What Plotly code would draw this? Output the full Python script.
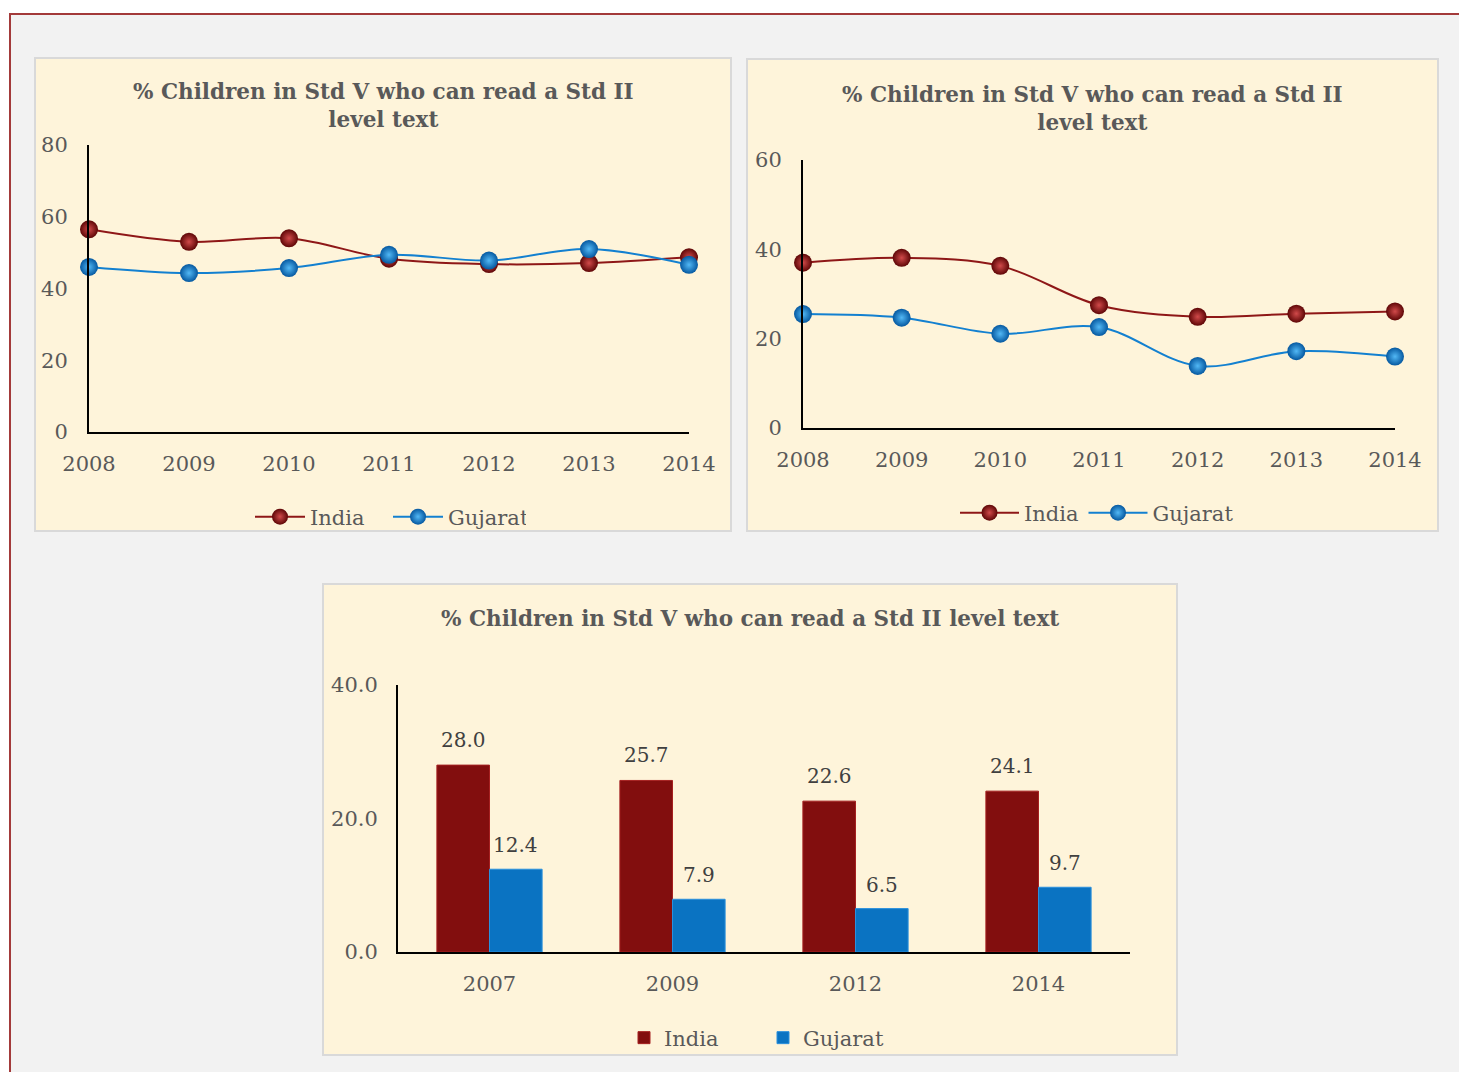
import plotly.graph_objects as go

W, H = 1459, 1072

# ---------------- data ----------------
years_line = [2008, 2009, 2010, 2011, 2012, 2013, 2014]
c1_india = [56.5, 53.0, 54.0, 48.3, 46.8, 47.1, 48.7]
c1_gujarat = [46.0, 44.3, 45.7, 49.4, 47.8, 51.0, 46.6]
c2_india = [37.0, 38.1, 36.3, 27.5, 24.9, 25.6, 26.1]
c2_gujarat = [25.5, 24.7, 21.1, 22.6, 13.9, 17.2, 16.0]
bar_years = ["2007", "2009", "2012", "2014"]
bar_india = [28.0, 25.7, 22.6, 24.1]
bar_gujarat = [12.4, 7.9, 6.5, 9.7]
title_line = "% Children in Std V who can read a Std II<br>level text"
title_bar = "% Children in Std V who can read a Std II level text"

FONT = "DejaVu Serif"
GREY = "#595959"
RED_LINE = "#8e1717"
BLUE_LINE = "#1380d0"


def px(x):
    return x / W


def py(y):
    return 1 - y / H


fig = go.Figure()


def ball(color_edge, color_center):
    return dict(size=18, color=color_edge,
                gradient=dict(type="radial", color=color_center),
                line=dict(width=0))


def add_lines(india, guj, xa, ya, leg):
    fig.add_trace(go.Scatter(
        x=years_line, y=india, name="India", mode="lines+markers",
        line=dict(color=RED_LINE, width=2, shape="spline", smoothing=1),
        marker=ball("#5e0606", "#d14a4a"), cliponaxis=False,
        xaxis=xa, yaxis=ya, legend=leg))
    fig.add_trace(go.Scatter(
        x=years_line, y=guj, name="Gujarat", mode="lines+markers",
        line=dict(color=BLUE_LINE, width=2, shape="spline", smoothing=1),
        marker=ball("#0558a0", "#52b8f5"), cliponaxis=False,
        xaxis=xa, yaxis=ya, legend=leg))


add_lines(c1_india, c1_gujarat, "x", "y", "legend")
add_lines(c2_india, c2_gujarat, "x2", "y2", "legend2")

fig.add_trace(go.Bar(
    x=bar_years, y=bar_india, name="India", marker=dict(color="#820e0e",
                                                        line=dict(color="#a52020", width=1)),
    xaxis="x3", yaxis="y3", legend="legend3"))
fig.add_trace(go.Bar(
    x=bar_years, y=bar_gujarat, name="Gujarat", marker=dict(color="#0a73c2",
                                                            line=dict(color="#2a90dd", width=1)),
    xaxis="x3", yaxis="y3", legend="legend3"))

tickfont = dict(family=FONT, size=21, color=GREY)

axis_common = dict(showgrid=False, zeroline=False, showline=True, linecolor="black",
                   linewidth=2, tickfont=tickfont, ticks="", fixedrange=True, automargin=False)

legfont = dict(family=FONT, size=21, color=GREY)

layout = dict(
    width=W, height=H, margin=dict(l=0, r=0, t=0, b=0, autoexpand=False),
    paper_bgcolor="white", plot_bgcolor="rgba(0,0,0,0)",
    barmode="group", bargap=0.425, bargroupgap=0,
    xaxis=dict(domain=[px(89), px(689)], range=[2008, 2014], tickvals=years_line,
               anchor="y", ticklabelstandoff=12, **axis_common),
    yaxis=dict(domain=[py(432), py(145)], range=[0, 80], dtick=20,
               anchor="x", ticklabelstandoff=15, **axis_common),
    xaxis2=dict(domain=[px(803), px(1395)], range=[2008, 2014], tickvals=years_line,
                anchor="y2", ticklabelstandoff=12, **axis_common),
    yaxis2=dict(domain=[py(428), py(160)], range=[0, 60], dtick=20,
                anchor="x2", ticklabelstandoff=15, **axis_common),
    xaxis3=dict(domain=[px(398), px(1130)], type="category",
                anchor="y3", ticklabelstandoff=12, **axis_common),
    yaxis3=dict(domain=[py(952), py(685)], range=[0, 40], dtick=20, tickformat=".1f",
                anchor="x3", ticklabelstandoff=14, **axis_common),
    legend=dict(orientation="h", x=px(388), y=py(517), xanchor="center", yanchor="middle",
                font=legfont, itemwidth=50, entrywidth=73,
                bgcolor="rgba(0,0,0,0)", itemclick=False, itemdoubleclick=False),
    legend2=dict(orientation="h", x=px(1097), y=py(513), xanchor="center", yanchor="middle",
                 font=legfont, itemwidth=59,
                 bgcolor="rgba(0,0,0,0)", itemclick=False, itemdoubleclick=False),
    legend3=dict(orientation="h", x=px(763), y=py(1038), xanchor="center", yanchor="middle",
                 font=legfont, itemwidth=30, entrywidth=94,
                 bgcolor="rgba(0,0,0,0)", itemclick=False, itemdoubleclick=False),
    showlegend=True,
)
fig.update_layout(**layout)

# frames / panels
shapes = [
    dict(type="rect", xref="paper", yref="paper", x0=px(10), x1=px(1470), y0=py(1085), y1=py(14),
         line=dict(color="#a33a3a", width=2), fillcolor="#f2f2f2", layer="below"),
    dict(type="rect", xref="paper", yref="paper", x0=px(35), x1=px(731), y0=py(531), y1=py(58),
         line=dict(color="#d9d9d9", width=2), fillcolor="#fef4da", layer="below"),
    dict(type="rect", xref="paper", yref="paper", x0=px(747), x1=px(1438), y0=py(531), y1=py(59),
         line=dict(color="#d9d9d9", width=2), fillcolor="#fef4da", layer="below"),
    dict(type="rect", xref="paper", yref="paper", x0=px(323), x1=px(1177), y0=py(1055), y1=py(584),
         line=dict(color="#d9d9d9", width=2), fillcolor="#fef4da", layer="below"),
]
fig.update_layout(shapes=shapes)

title_font = dict(family=FONT, size=21.5, color=GREY, weight="bold")
annotations = [
    dict(text="<b>" + title_line + "</b>", x=px(383), y=py(106), xref="paper", yref="paper",
         showarrow=False, font=title_font, xanchor="center", yanchor="middle"),
    dict(text="<b>" + title_line + "</b>", x=px(1092), y=py(108), xref="paper", yref="paper",
         showarrow=False, font=title_font, xanchor="center", yanchor="middle"),
    dict(text="<b>" + title_bar + "</b>", x=px(750), y=py(618), xref="paper", yref="paper",
         showarrow=False, font=title_font, xanchor="center", yanchor="middle"),
]
lab_font = dict(family=FONT, size=20, color="#404040")
for i, (vi, vg) in enumerate(zip(bar_india, bar_gujarat)):
    annotations.append(dict(text=f"{vi:.1f}", x=i - 0.14375, y=vi, xref="x3", yref="y3",
                            showarrow=False, yshift=25, font=lab_font))
    annotations.append(dict(text=f"{vg:.1f}", x=i + 0.14375, y=vg, xref="x3", yref="y3",
                            showarrow=False, yshift=24, font=lab_font))
fig.update_layout(annotations=annotations)

fig.write_html("out.html")
